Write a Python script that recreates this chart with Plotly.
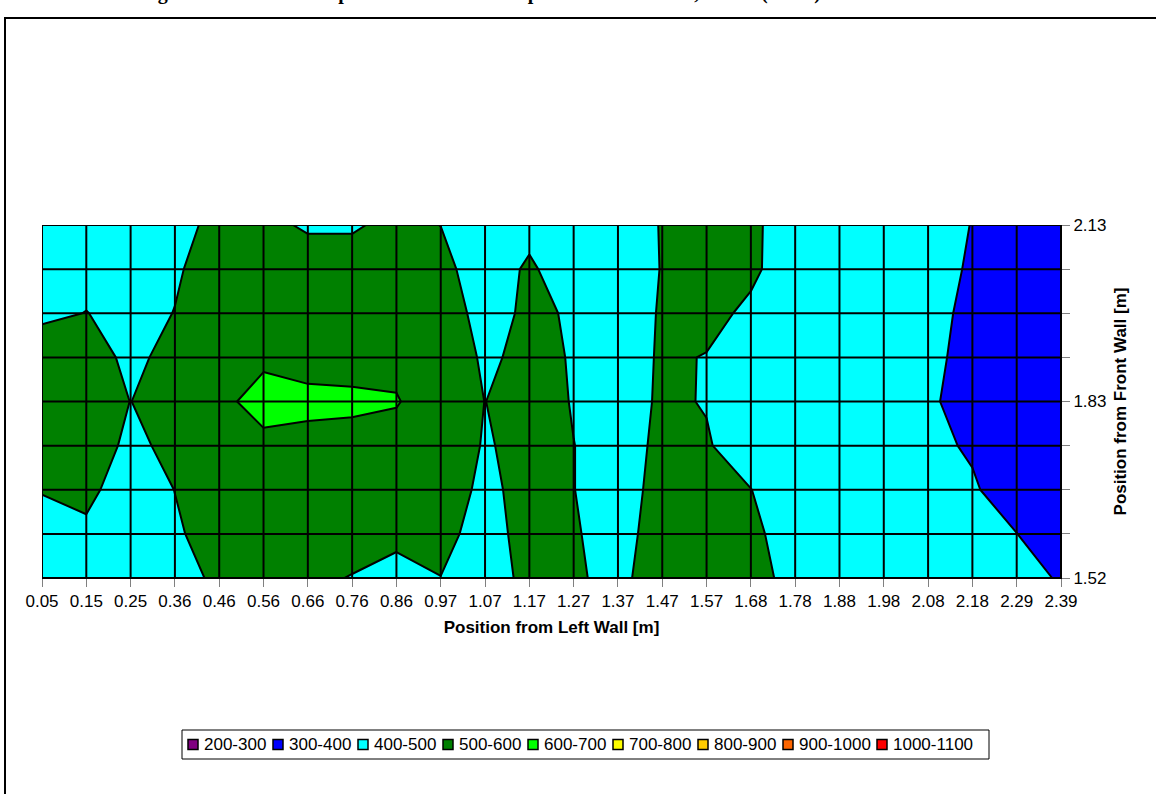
import plotly.graph_objects as go

# Horizontal positions (m) and vertical positions (m) of the measurement grid
x_labels = ["0.05", "0.15", "0.25", "0.36", "0.46", "0.56", "0.66", "0.76", "0.86",
            "0.97", "1.07", "1.17", "1.27", "1.37", "1.47", "1.57", "1.68", "1.78",
            "1.88", "1.98", "2.08", "2.18", "2.29", "2.39"]
y_labels = ["1.52", "1.60", "1.68", "1.75", "1.83", "1.91", "1.98", "2.06", "2.13"]
y_shown = ["1.52", "1.83", "2.13"]

# Wall temperatures, one row per height (bottom to top)
temp_152 = [440, 450, 450, 470, 515, 540, 520, 496, 457, 499, 480, 511, 507, 485, 532, 545, 520, 482, 460, 450, 440, 430, 420, 395]
temp_160 = [460, 484, 460, 490, 533, 550, 550, 540, 530, 520, 473, 525, 505, 477, 528, 540, 515, 468, 450, 440, 430, 420, 401, 340]
temp_168 = [505, 520, 457, 501, 550, 560, 560, 560, 550, 530, 487, 519, 501, 470, 523, 540, 501, 460, 450, 440, 430, 410, 354, 330]
temp_175 = [550, 540, 484, 518, 560, 573, 575, 573, 570, 540, 495, 517, 501, 470, 515, 505, 469, 460, 450, 440, 420, 390, 340, 320]
temp_183 = [560, 545, 499, 540, 573, 640, 620, 615, 605, 555, 499, 540, 495, 470, 509, 497, 470, 460, 450, 440, 420, 346, 330, 320]
temp_191 = [560, 540, 480, 527, 560, 580, 570, 570, 580, 550, 489, 517, 496, 470, 507, 498, 470, 460, 450, 440, 430, 360, 340, 330]
temp_198 = [480, 502, 470, 502, 550, 570, 570, 570, 560, 540, 473, 513, 493, 470, 505, 515, 490, 460, 450, 440, 430, 377, 340, 330]
temp_206 = [460, 470, 470, 490, 540, 560, 540, 540, 545, 530, 445, 515, 440, 470, 502, 530, 510, 470, 460, 450, 430, 391, 350, 340]
temp_213 = [450, 450, 460, 480, 517, 520, 490, 490, 522, 499, 460, 470, 470, 480, 502, 540, 510, 473, 460, 450, 430, 398, 350, 340]

z_rows = [temp_152, temp_160, temp_168, temp_175, temp_183,
          temp_191, temp_198, temp_206, temp_213]

# Temperature bands and their colours
band_labels = ["200-300", "300-400", "400-500", "500-600", "600-700",
               "700-800", "800-900", "900-1000", "1000-1100"]
band_colors = ["#800080", "#0000FF", "#00FFFF", "#008000", "#00FF00",
               "#FFFF00", "#FFCC00", "#FF6600", "#FF0000"]

n = len(band_colors)
colorscale = [[i / (n - 1), c] for i, c in enumerate(band_colors)]

FONT = "Liberation Sans, Arial, sans-serif"

# plot area in page pixels, used to place the legend box and frame
PL, PR, PT, PB = 42, 1061, 225, 578


def px(xp):
    return (xp - PL) / (PR - PL)


def py(yp):
    return (PB - yp) / (PB - PT)


fig = go.Figure()

fig.add_trace(go.Contour(
    x=x_labels, y=y_labels, z=z_rows,
    contours=dict(start=300, end=1000, size=100, coloring="fill"),
    colorscale=colorscale,
    line=dict(color="black", width=2, smoothing=0),
    showscale=False,
    hoverinfo="skip",
    showlegend=False,
))

# Cell grid drawn over the filled bands
gx, gy = [], []
for xv in x_labels:
    gx += [xv, xv, None]
    gy += [y_labels[0], y_labels[-1], None]
for yv in y_labels:
    gx += [x_labels[0], x_labels[-1], None]
    gy += [yv, yv, None]
fig.add_trace(go.Scatter(
    x=gx, y=gy, mode="lines",
    line=dict(color="black", width=2),
    hoverinfo="skip", showlegend=False,
))

# Legend: a boxed row of colour swatches with their band labels
shapes = []
annotations = []
leg_top, leg_bot = 730, 759
leg_mid = (leg_top + leg_bot) / 2
shapes.append(dict(
    type="rect", xref="paper", yref="paper",
    x0=px(182), x1=px(989), y0=py(leg_bot), y1=py(leg_top),
    line=dict(color="black", width=1), fillcolor="white",
))
sx = 188
for lbl, col in zip(band_labels, band_colors):
    shapes.append(dict(
        type="rect", xref="paper", yref="paper",
        x0=px(sx), x1=px(sx + 10), y0=py(leg_mid + 5), y1=py(leg_mid - 5),
        line=dict(color="black", width=1.5), fillcolor=col,
    ))
    annotations.append(dict(
        xref="paper", yref="paper", x=px(sx + 14), y=py(leg_mid),
        xanchor="left", yanchor="middle", text=lbl, showarrow=False,
        font=dict(family=FONT, size=17, color="black"),
    ))
    sx += 22 + 9.0 * len(lbl)

# Outer frame of the chart
shapes.append(dict(
    type="rect", xref="paper", yref="paper", layer="below",
    x0=px(5), x1=1.3, y0=-0.8, y1=py(18),
    line=dict(color="black", width=2), fillcolor="rgba(0,0,0,0)",
))

# Figure caption at the very top of the page
annotations.append(dict(
    xref="paper", yref="paper", x=px(580), y=py(-8),
    yanchor="middle",
    text="<b>Figure 11. Thermal Map of Wall Surface Temperatures for Test 2, Run 1 (ECM) Elevation 1.52 - 2.13 m</b>",
    showarrow=False,
    font=dict(family="Liberation Serif, Times New Roman, serif", size=20, color="black"),
))

fig.update_layout(
    width=1156, height=794,
    margin=dict(l=PL, r=1156 - PR, t=PT, b=794 - PB),
    paper_bgcolor="white", plot_bgcolor="white",
    font=dict(family=FONT, size=17, color="black"),
    showlegend=False,
    xaxis=dict(
        type="category", range=[0, len(x_labels) - 1],
        showgrid=False, zeroline=False,
        showline=True, linecolor="black", linewidth=1,
        ticks="outside", ticklen=8, tickcolor="#808080",
        tickfont=dict(family=FONT, size=17),
        title=dict(text="<b>Position from Left Wall [m]</b>",
                   font=dict(family=FONT, size=17), standoff=10),
    ),
    yaxis=dict(
        type="category", range=[0, len(y_labels) - 1], side="right",
        showgrid=False, zeroline=False,
        showline=True, linecolor="black", linewidth=1,
        ticks="outside", ticklen=8, tickcolor="#808080",
        tickmode="array", tickvals=y_labels,
        ticktext=[v if v in y_shown else "" for v in y_labels],
        tickfont=dict(family=FONT, size=17),
        title=dict(text="<b>Position from Front Wall [m]</b>",
                   font=dict(family=FONT, size=17), standoff=8),
    ),
    shapes=shapes,
    annotations=annotations,
)

fig.write_html("out.html")
